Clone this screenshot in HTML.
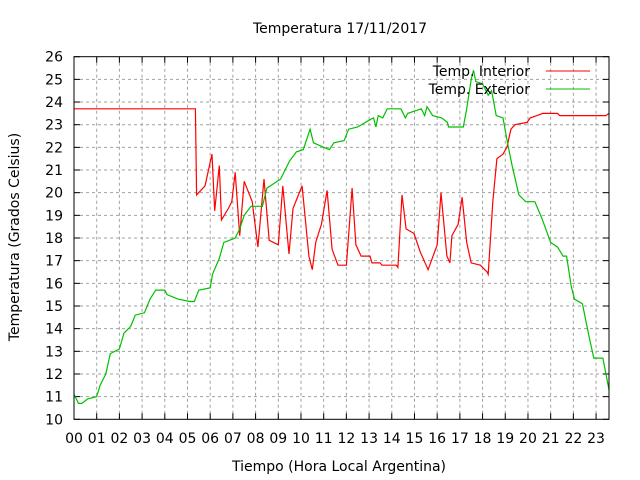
<!DOCTYPE html>
<html><head><meta charset="utf-8"><style>
body{margin:0;background:#fff}
svg{display:block;font-family:"DejaVu Sans","Liberation Sans",sans-serif}
</style></head><body>
<svg id="chart" width="640" height="480">
<text x="340" y="33" text-anchor="middle" font-size="14">Temperatura 17/11/2017</text>
<text x="339" y="471" text-anchor="middle" font-size="14">Tiempo (Hora Local Argentina)</text>
<text transform="translate(19,237) rotate(-90)" text-anchor="middle" font-size="14">Temperatura (Grados Celsius)</text>
<g id="grid"></g><g id="ticks"></g><g id="series"></g>
<rect x="74" y="56.7" width="535" height="362.6" fill="none" stroke="#000" stroke-width="1"/>
<g>
<text x="530" y="76" text-anchor="end" font-size="14">Temp. Interior</text>
<line x1="546" y1="71" x2="590" y2="71" stroke="#ff0000"/>
<text x="530" y="94" text-anchor="end" font-size="14">Temp. Exterior</text>
<line x1="546" y1="89" x2="590" y2="89" stroke="#00c000"/>
</g>
</svg>
<script>
const xTicks=["00","01","02","03","04","05","06","07","08","09","10","11","12","13","14","15","16","17","18","19","20","21","22","23"];
const yTicks=[10,11,12,13,14,15,16,17,18,19,20,21,22,23,24,25,26];
const interiorHours=[0,5.35,5.4,5.77,6.08,6.2,6.4,6.5,6.8,6.95,7.1,7.3,7.5,7.85,8.1,8.37,8.6,9.0,9.2,9.47,9.65,10.05,10.35,10.5,10.65,10.9,11.15,11.37,11.63,12.0,12.25,12.42,12.65,13.04,13.13,13.48,13.57,14.2,14.27,14.45,14.63,14.98,15.25,15.6,16.0,16.17,16.43,16.56,16.65,16.92,17.1,17.3,17.5,17.9,18.2,18.25,18.45,18.63,18.9,19.07,19.25,19.43,19.96,20.1,20.4,20.66,21.3,21.4,23.43,23.57];
const interiorTemps=[23.7,23.7,19.9,20.3,21.7,19.2,21.2,18.8,19.3,19.6,20.9,18.1,20.5,19.6,17.6,20.6,17.9,17.7,20.3,17.3,19.3,20.3,17.2,16.6,17.8,18.6,20.1,17.5,16.8,16.8,20.2,17.7,17.2,17.2,16.9,16.9,16.8,16.8,16.7,19.9,18.4,18.2,17.4,16.6,17.7,20.0,17.2,16.9,18.1,18.6,19.8,17.8,16.9,16.8,16.5,16.4,19.6,21.5,21.7,22.0,22.8,23.0,23.1,23.3,23.4,23.5,23.5,23.4,23.4,23.5];
const exteriorHours=[0,0.2,0.35,0.6,1.0,1.15,1.4,1.6,2.0,2.2,2.5,2.7,3.1,3.35,3.6,4.0,4.1,4.6,5.1,5.3,5.5,6.0,6.1,6.4,6.6,7.1,7.3,7.5,7.8,8.3,8.5,9.1,9.5,9.8,10.1,10.4,10.55,11.0,11.25,11.45,11.9,12.1,12.5,13.0,13.2,13.3,13.4,13.6,13.8,14.4,14.6,14.7,15.0,15.3,15.45,15.55,15.8,16.2,16.45,16.5,17.15,17.3,17.5,17.6,17.7,18.0,18.25,18.4,18.6,18.9,19.1,19.3,19.6,19.9,20.3,20.6,21.0,21.3,21.55,21.7,21.9,22.05,22.4,22.7,22.9,23.3,23.57];
const exteriorTemps=[11.1,10.7,10.7,10.9,11.0,11.5,12.0,12.9,13.1,13.8,14.1,14.6,14.7,15.3,15.7,15.7,15.5,15.3,15.2,15.2,15.7,15.8,16.4,17.1,17.8,18.0,18.4,19.0,19.4,19.4,20.2,20.6,21.4,21.8,21.9,22.8,22.2,22.0,21.9,22.2,22.3,22.8,22.9,23.2,23.3,22.9,23.4,23.3,23.7,23.7,23.3,23.5,23.6,23.7,23.4,23.8,23.4,23.3,23.1,22.9,22.9,23.7,25.0,25.4,24.9,24.8,24.3,24.5,23.4,23.3,22.2,21.2,19.9,19.6,19.6,18.9,17.8,17.6,17.2,17.2,15.9,15.3,15.1,13.6,12.7,12.7,11.3];

const L=74,R=609,T=56.7,B=419.3,XMAX=23.57;
const sx=h=>L+h/XMAX*(R-L);
const sy=v=>B-(v-10)/16*(B-T);
const NS="http://www.w3.org/2000/svg";
function mk(tag,attrs,parent){const e=document.createElementNS(NS,tag);for(const k in attrs)e.setAttribute(k,attrs[k]);parent.appendChild(e);return e;}
const grid=document.getElementById('grid'),ticks=document.getElementById('ticks'),series=document.getElementById('series');
yTicks.forEach(v=>{
  const y=sy(v);
  if(v>10&&v<26){const g=mk('line',{x1:L,y1:y,x2:R,y2:y,stroke:'#a0a0a0','stroke-dasharray':'3,3'},grid);
  
  }
  const t1=mk('line',{x1:L,y1:y,x2:L+6,y2:y,stroke:'#000'},ticks);
  
  
  const t2=mk('line',{x1:R,y1:y,x2:R-6,y2:y,stroke:'#000'},ticks);
  
  
  const lb=mk('text',{x:63,y:y+5,'text-anchor':'end','font-size':'14'},ticks);
  lb.textContent=v;
  
  
});
xTicks.forEach((s,i)=>{
  const x=sx(i);
  if(i>0){const g=mk('line',{x1:x,y1:T,x2:x,y2:B,stroke:'#a0a0a0','stroke-dasharray':'3,3'},grid);
  
  }
  const t1=mk('line',{x1:x,y1:B,x2:x,y2:B-6,stroke:'#000'},ticks);
  
  
  const t2=mk('line',{x1:x,y1:T,x2:x,y2:T+6,stroke:'#000'},ticks);
  
  
  const lb=mk('text',{x:x,y:443,'text-anchor':'middle','font-size':'14'},ticks);
  lb.textContent=s;
  
  
});
function line(hs,vs,color,name){
  const p=hs.map((h,i)=>sx(h).toFixed(1)+','+sy(vs[i]).toFixed(1)).join(' ');
  const e=mk('polyline',{points:p,fill:'none',stroke:color,'stroke-width':'1.2'},series);
  
  
}
line(interiorHours,interiorTemps,'#ff0000','interior-temp-line');
line(exteriorHours,exteriorTemps,'#00c000','exterior-temp-line');
</script>
</body></html>
